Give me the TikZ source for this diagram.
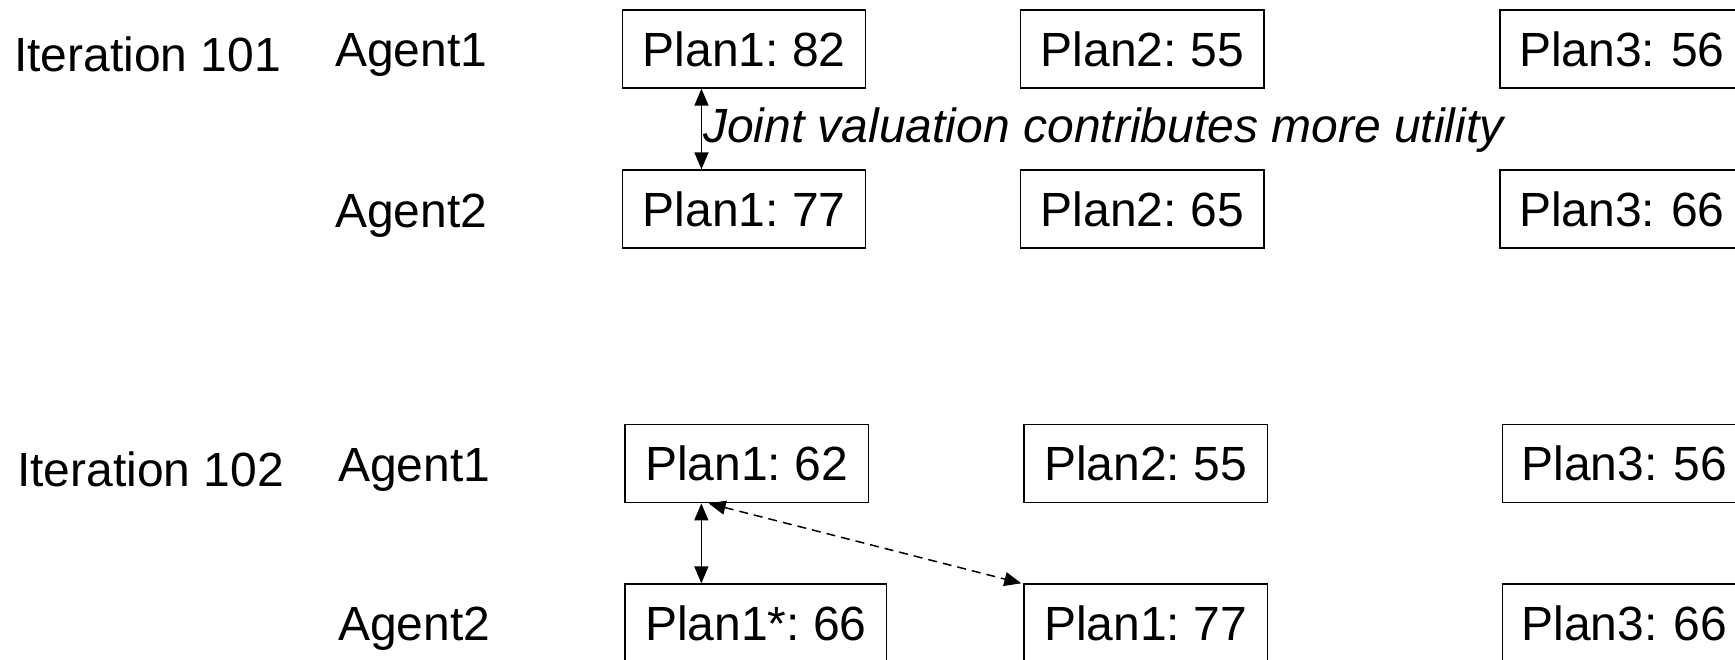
\documentclass[tikz,border=0pt]{standalone}
\usepackage{fontspec}
\setmainfont{Liberation Sans}
\usetikzlibrary{arrows.meta}
\frenchspacing
\begin{document}
\begin{tikzpicture}[x=1pt,y=-1pt,
  every node/.style={font=\fontsize{48}{56}\selectfont\frenchspacing},
  planbox/.style={draw,line width=1.4pt,inner sep=0pt,minimum width=243.3pt,minimum height=78pt,anchor=north west},
  edgebox/.style={planbox,text width=260pt,align=left,inner xsep=19pt},
  lbl/.style={anchor=base west,inner sep=0pt},
  arr/.style={line width=1.5pt,{Triangle[length=17pt,width=14pt]}-{Triangle[length=17pt,width=14pt]}},
  darr/.style={arr,dash pattern=on 9pt off 6pt}]
\useasboundingbox (0,0) rectangle (1735,660);
\clip (0,0) rectangle (1735,660);

% Iteration 101
\node[lbl] (it1) at (14,71.7) {Iteration 101};
\node[lbl] (a11) at (335,66.7) {Agent1};
\node[lbl] (a12) at (335,227.3) {Agent2};
\node[planbox] (p11) at (621.7,9.3) {Plan1: 82};
\node[planbox] (p12) at (1020,9.3) {Plan2: 55};
\node[edgebox] (p13) at (1499.3,9.3) {Plan3: 56};
\node[planbox] (p21) at (621.7,169.3) {Plan1: 77};
\node[planbox] (p22) at (1020,169.3) {Plan2: 65};
\node[edgebox] (p23) at (1499.3,169.3) {Plan3: 66};
\draw[arr] ([xshift=-42.6pt]p11.south) -- ([xshift=-42.6pt]p21.north);
\node[lbl,font=\fontsize{48}{56}\selectfont\itshape] (note) at (703,143)
  {Joint valuation contributes more utility};

% Iteration 102
\node[lbl] (it2) at (17,486) {Iteration 102};
\node[lbl] (a21) at (338,481.7) {Agent1};
\node[lbl] (a22) at (338,640.7) {Agent2};
\node[planbox] (p31) at (624.3,424) {Plan1: 62};
\node[planbox] (p32) at (1023.3,424) {Plan2: 55};
\node[edgebox] (p33) at (1501.7,424) {Plan3: 56};
\node[planbox,minimum width=261.7pt] (p41) at (624.3,583.3) {Plan1*: 66};
\node[planbox] (p42) at (1023.3,583.3) {Plan1: 77};
\node[edgebox] (p43) at (1501.7,583.3) {Plan3: 66};
\draw[arr] ([xshift=-45.3pt]p31.south) -- ([xshift=-45.3pt]p31.south |- p41.north);
\draw[darr] ([xshift=-38pt]p31.south) -- ([xshift=-2pt]p42.north west);
\end{tikzpicture}
\end{document}
